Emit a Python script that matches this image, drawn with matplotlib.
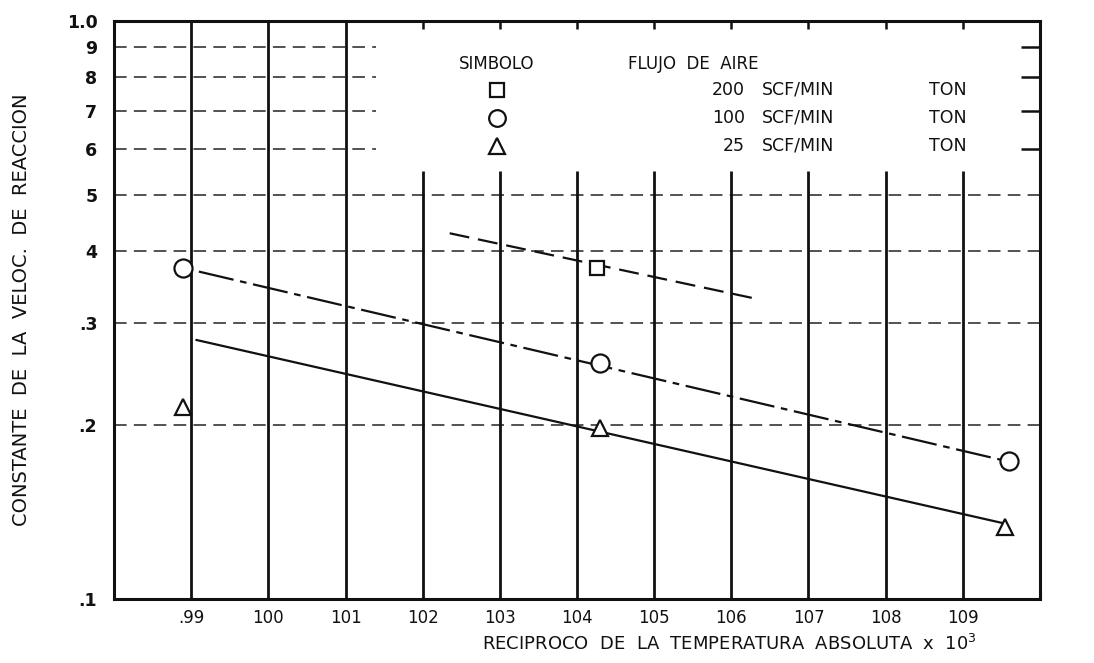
import matplotlib
matplotlib.use("Agg")
import matplotlib.pyplot as plt
import matplotlib.ticker as mticker

# ---- data ----
x_ticks = [0.99, 1.00, 1.01, 1.02, 1.03, 1.04, 1.05, 1.06, 1.07, 1.08, 1.09]
x_tick_labels = [".99", "100", "101", "102", "103", "104", "105", "106", "107", "108", "109"]
y_ticks = [0.1, 0.2, 0.3, 0.4, 0.5, 0.6, 0.7, 0.8, 0.9, 1.0]
y_tick_labels = [".1", ".2", ".3", "4", "5", "6", "7", "8", "9", "1.0"]

# measured points
circ_x = [0.989, 1.043, 1.096]
circ_y = [0.374, 0.256, 0.173]
tri_x = [0.989, 1.043, 1.0955]
tri_y = [0.215, 0.1976, 0.1334]
sq_x = [1.0426]
sq_y = [0.3735]

# fitted lines
circ_line_x = [0.991, 1.096]
circ_line_y = [0.3685, 0.1728]
tri_line_x = [0.9907, 1.0955]
tri_line_y = [0.2806, 0.135]
sq_line_x = [1.0235, 1.0627]
sq_line_y = [0.4293, 0.3318]

legend_rows = ["200", "100", "25"]
legend_units = ["SCF/MIN", "SCF/MIN", "SCF/MIN"]

plt.rcParams['font.family'] = ['DejaVu Sans']

fig = plt.figure(figsize=(10.94, 6.63), dpi=100)
ax = fig.add_axes([114/1094, 64/663, 926/1094, 578/663])
ax.set_yscale('log')
ax.set_xlim(0.98, 1.10)
ax.set_ylim(0.1, 1.0)

ink = '#111111'
for s in ax.spines.values():
    s.set_linewidth(2.2)
    s.set_color(ink)

# vertical grid lines
for xv in x_ticks:
    top = 1.0 if xv <= 1.01 + 1e-9 else 0.55
    ax.vlines(xv, 0.1, top, colors=ink, linewidth=2.0, zorder=2)
    if xv > 1.01 + 1e-9:
        ax.vlines(xv, 0.969, 1.0, colors=ink, linewidth=1.8, zorder=2)

# horizontal dashed grid lines
for yv in y_ticks[1:-1]:
    if yv <= 0.5 + 1e-9:
        ax.hlines(yv, 0.98, 1.10, colors='#444444', linewidth=1.3,
                  linestyles=(0, (7, 4)), zorder=1)
    else:
        ax.hlines(yv, 0.98, 1.014, colors='#444444', linewidth=1.3,
                  linestyles=(0, (7, 4)), zorder=1)
        ax.hlines(yv, 1.0975, 1.10, colors=ink, linewidth=1.8, zorder=1)

# data lines
ax.plot(circ_line_x, circ_line_y, color=ink, linewidth=1.6,
        linestyle=(0, (16, 3, 3, 3)), zorder=3)
ax.plot(tri_line_x, tri_line_y, color=ink, linewidth=1.6, zorder=3)
ax.plot(sq_line_x, sq_line_y, color=ink, linewidth=1.6,
        linestyle=(0, (9, 4)), zorder=3)

# markers
ax.plot(circ_x, circ_y, linestyle='none', marker='o', markersize=13,
        markerfacecolor='white', markeredgecolor=ink, markeredgewidth=1.6, zorder=4)
ax.plot(tri_x, tri_y, linestyle='none', marker='^', markersize=12,
        markerfacecolor='white', markeredgecolor=ink, markeredgewidth=1.6, zorder=4)
ax.plot(sq_x, sq_y, linestyle='none', marker='s', markersize=10,
        markerfacecolor='white', markeredgecolor=ink, markeredgewidth=1.6, zorder=4)

# ticks
ax.set_xticks(x_ticks)
ax.set_xticklabels(x_tick_labels, fontsize=12, color=ink)
ax.yaxis.set_major_locator(mticker.FixedLocator(y_ticks))
ax.yaxis.set_minor_locator(mticker.NullLocator())
ax.set_yticklabels(y_tick_labels, fontsize=12.5, color=ink, fontweight='bold')
ax.tick_params(axis='both', length=0)
ax.tick_params(axis='x', pad=7)
ax.tick_params(axis='y', pad=12)

ax.set_xlabel("RECIPROCO  DE  LA  TEMPERATURA  ABSOLUTA  x  10$^{3}$",
              fontsize=13, color=ink)
ax.xaxis.set_label_coords(0.665, -0.06)
ax.set_ylabel("CONSTANTE  DE  LA  VELOC.  DE  REACCION", fontsize=14,
              color=ink)
ax.yaxis.set_label_coords(-0.09, 0.5)

# legend table
tA = ax.transAxes
def ax_x(px):
    return (px - 114) / 926
def ax_y(py):
    return (599 - py) / 578

ax.text(ax_x(497), ax_y(64), "SIMBOLO", transform=tA, ha='center', va='center',
        fontsize=12, color=ink)
ax.text(ax_x(628), ax_y(64), "FLUJO  DE  AIRE", transform=tA, ha='left', va='center',
        fontsize=12, color=ink)
markers = ['s', 'o', '^']
msizes = [10, 12, 11]
rows_y = [90, 118, 146]
for m, ms, ry, num, unit in zip(markers, msizes, rows_y, legend_rows, legend_units):
    ax.plot([ax_x(497)], [ax_y(ry)], transform=tA, marker=m, markersize=ms,
            markerfacecolor='white', markeredgecolor=ink, markeredgewidth=1.6,
            linestyle='none', clip_on=False)
    ax.text(ax_x(745), ax_y(ry), num, transform=tA, ha='right', va='center',
            fontsize=12.5, color=ink)
    ax.text(ax_x(762), ax_y(ry), unit, transform=tA, ha='left', va='center',
            fontsize=12.5, color=ink)
    ax.text(ax_x(967), ax_y(ry), "TON", transform=tA, ha='right', va='center',
            fontsize=12.5, color=ink)

fig.savefig("out.png", dpi=100, facecolor='white')
